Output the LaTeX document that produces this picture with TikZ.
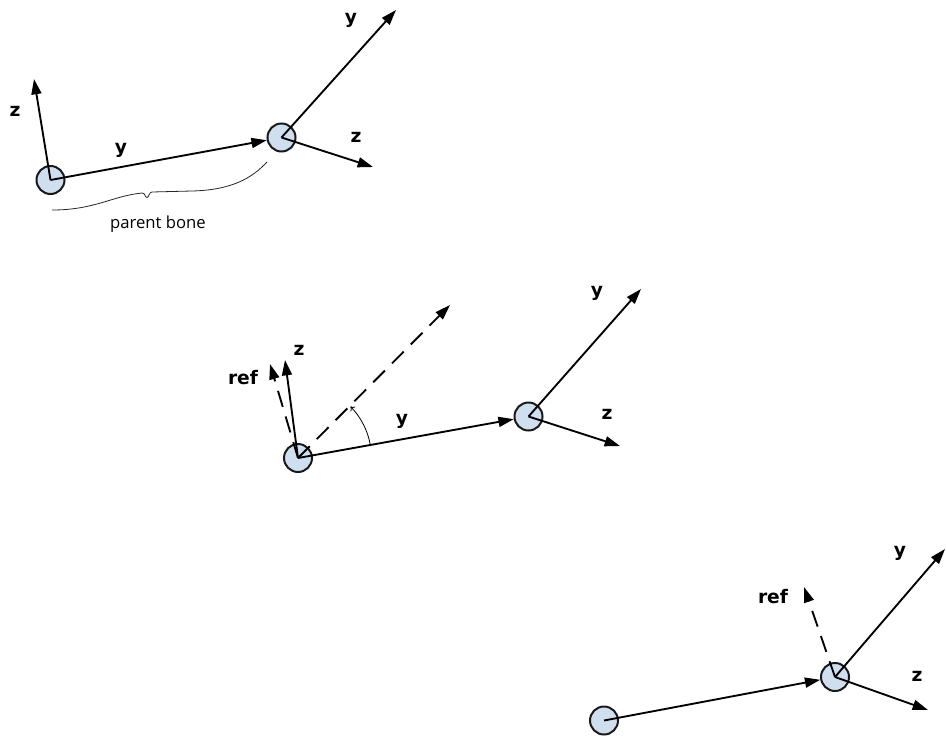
\documentclass[tikz,border=0pt]{standalone}
\usepackage{fontspec}
\setmainfont{DejaVu Sans}
\newfontfamily\notefont{Open Sans}
\usetikzlibrary{arrows.meta,calc}
\definecolor{jointfill}{RGB}{207,223,240}
\begin{document}
\begin{tikzpicture}[x=0.75pt,y=-0.75pt,
  joint/.style={circle,draw=black!90,line width=1.5pt,fill=jointfill,minimum size=21pt,inner sep=0pt},
  axis/.style={line width=1.4pt,-{Triangle[length=11.5pt,width=7.5pt]}},
  dashaxis/.style={axis,dash pattern=on 12.5pt off 7.5pt},
  lbl/.style={font=\bfseries\fontsize{14}{16}\selectfont,inner sep=0pt},
  note/.style={font=\notefont\fontsize{12.5}{15}\selectfont,inner sep=0pt},
  anglearc/.style={line width=0.6pt,-{To[length=3pt,width=5pt]}},
  brace/.style={line width=0.6pt,black!85}]
\useasboundingbox (0,0) rectangle (946,736);

% joints
\node[joint] (A) at (50.5,180) {};
\node[joint] (B) at (281.5,137.5) {};
\node[joint] (C) at (298,458) {};
\node[joint] (D) at (528.5,416.5) {};
\node[joint] (E) at (604,720.5) {};
\node[joint] (F) at (835,677) {};

% axis end points
\coordinate (Az) at (34,79);
\coordinate (By) at (396,10);
\coordinate (Bz) at (373,167);
\coordinate (Cz) at (285,360);
\coordinate (Cref) at (270,364);
\coordinate (Cd) at (450,305);
\coordinate (Dy) at (641,289);
\coordinate (Dz) at (620,446);
\coordinate (Fy) at (945,549);
\coordinate (Fz) at (928,710);
\coordinate (Fref) at (804,587);

% group 1
\draw[axis] (A.center) -- (Az);
\draw[axis] (A.center) -- (B);
\draw[axis] (B.center) -- (By);
\draw[axis] (B.center) -- (Bz);
\node[lbl] (lAz) at (15,111) {z};
\node[lbl] (lAy) at (121,150) {y};
\node[lbl] (lBy) at (351,20) {y};
\node[lbl] (lBz) at (356,137) {z};
\draw[brace] (52,210) .. controls (95,210) and (112,196) .. (142,193)
  .. controls (145,192.5) and (145,197.5) .. (147,197.5)
  .. controls (149,197.5) and (149,192) .. (152,192)
  -- (192,191) .. controls (232,190) and (252,178) .. (267,162);
\node[note] (pb) at (158,224) {parent bone};

% group 2
\draw[dashaxis] (C.center) -- (Cref);
\draw[axis] (C.center) -- (Cz);
\draw[dashaxis] (C.center) -- (Cd);
\draw[axis] (C.center) -- (D);
\draw[axis] (D.center) -- (Dy);
\draw[axis] (D.center) -- (Dz);
\draw[anglearc] ($(C.center)+(-10.3:73.5)$) arc[start angle=-10.3,end angle=-44.5,radius=73.5];
\node[lbl] (lCref) at (243,378) {ref};
\node[lbl] (lCz) at (299,350) {z};
\node[lbl] (lCy) at (402,421) {y};
\node[lbl] (lDy) at (597,293) {y};
\node[lbl] (lDz) at (607,414) {z};

% group 3
\draw[axis] (E.center) -- (F);
\draw[dashaxis] (F.center) -- (Fref);
\draw[axis] (F.center) -- (Fy);
\draw[axis] (F.center) -- (Fz);
\node[lbl] (lFy) at (900,553) {y};
\node[lbl] (lFref) at (773,597) {ref};
\node[lbl] (lFz) at (917,676) {z};
\end{tikzpicture}
\end{document}
